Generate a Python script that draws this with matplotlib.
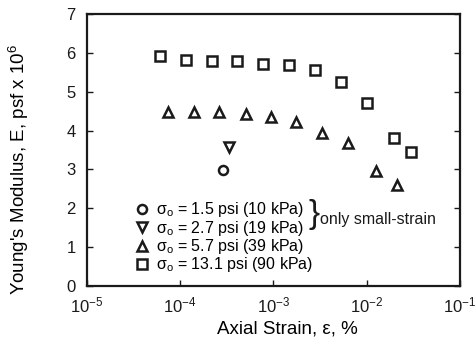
import matplotlib
matplotlib.use("Agg")
import matplotlib.pyplot as plt

plt.rcParams['font.family'] = ['Liberation Sans', 'DejaVu Sans']
plt.rcParams['mathtext.fontset'] = 'custom'
plt.rcParams['mathtext.rm'] = 'Liberation Sans'
plt.rcParams['mathtext.it'] = 'Liberation Sans'

# Data (axial strain in %, Young's modulus in psf x 10^6)
strain_90 = [6.1e-5, 1.15e-4, 2.2e-4, 4.1e-4, 7.7e-4, 1.48e-3, 2.8e-3, 5.3e-3, 1.0e-2, 1.97e-2, 2.97e-2]
E_90 = [5.91, 5.83, 5.78, 5.79, 5.72, 5.68, 5.57, 5.24, 4.71, 3.81, 3.44]
strain_39 = [7.5e-5, 1.41e-4, 2.62e-4, 5.06e-4, 9.4e-4, 1.75e-3, 3.3e-3, 6.3e-3, 1.26e-2, 2.1e-2]
E_39 = [4.48, 4.48, 4.48, 4.44, 4.34, 4.22, 3.94, 3.67, 2.96, 2.61]
strain_19 = [3.35e-4]
E_19 = [3.57]
strain_10 = [2.9e-4]
E_10 = [2.98]

labels = [r"σ$_\mathrm{o}$ = 1.5 psi (10 kPa)",
          r"σ$_\mathrm{o}$ = 2.7 psi (19 kPa)",
          r"σ$_\mathrm{o}$ = 5.7 psi (39 kPa)",
          r"σ$_\mathrm{o}$ = 13.1 psi (90 kPa)"]
xticks = [1e-5, 1e-4, 1e-3, 1e-2, 1e-1]
xticklabels = [r"10$^{-5}$", r"10$^{-4}$", r"10$^{-3}$", r"10$^{-2}$", r"10$^{-1}$"]
yticks = [0, 1, 2, 3, 4, 5, 6, 7]

fig = plt.figure(figsize=(4.75, 3.43), dpi=100)
ax = fig.add_axes([0.1825, 0.166, 0.7855, 0.793])

mk = dict(linestyle='none', markerfacecolor='white', markeredgecolor='#1a1a1a', markeredgewidth=1.8)
h10, = ax.plot(strain_10, E_10, marker='o', markersize=6.5, **mk)
h19, = ax.plot(strain_19, E_19, marker='v', markersize=7, **mk)
h39, = ax.plot(strain_39, E_39, marker='^', markersize=7, **mk)
h90, = ax.plot(strain_90, E_90, marker='s', markersize=7.5, **mk)

ax.set_xscale('log')
ax.set_xlim(1e-5, 1e-1)
ax.set_ylim(0, 7)
ax.set_xticks(xticks)
ax.set_xticklabels(xticklabels)
ax.xaxis.set_minor_locator(matplotlib.ticker.NullLocator())
ax.set_yticks(yticks)
ax.tick_params(axis='both', direction='in', length=4, width=1, labelsize=12, colors='#1a1a1a')
ax.tick_params(axis='y', right=True, pad=8)
ax.tick_params(axis='x', pad=7)
for s in ax.spines.values():
    s.set_linewidth(1.6)
    s.set_color('#1a1a1a')

ax.set_xlabel("Axial Strain, ε, %", fontsize=13.5)
ax.xaxis.set_label_coords(0.537, -0.128)
ax.set_ylabel(r"Young's Modulus, E, psf x 10$^6$", fontsize=13.5)
ax.yaxis.set_label_coords(-0.15, 0.43)

leg = ax.legend([h10, h19, h39, h90], labels, loc='upper left',
                bbox_to_anchor=(0.13, 0.315), frameon=False, fontsize=11.5,
                handlelength=0.9, handletextpad=0.4, labelspacing=-0.04,
                borderpad=0, borderaxespad=0)

ax.text(0.595, 0.262, "}", transform=ax.transAxes, fontsize=24, va='center', ha='left',
        color='#1a1a1a')
ax.text(0.624, 0.243, "only small-strain", transform=ax.transAxes, fontsize=11.5,
        va='center', ha='left', color='#1a1a1a')

fig.savefig("out.png", dpi=100)
